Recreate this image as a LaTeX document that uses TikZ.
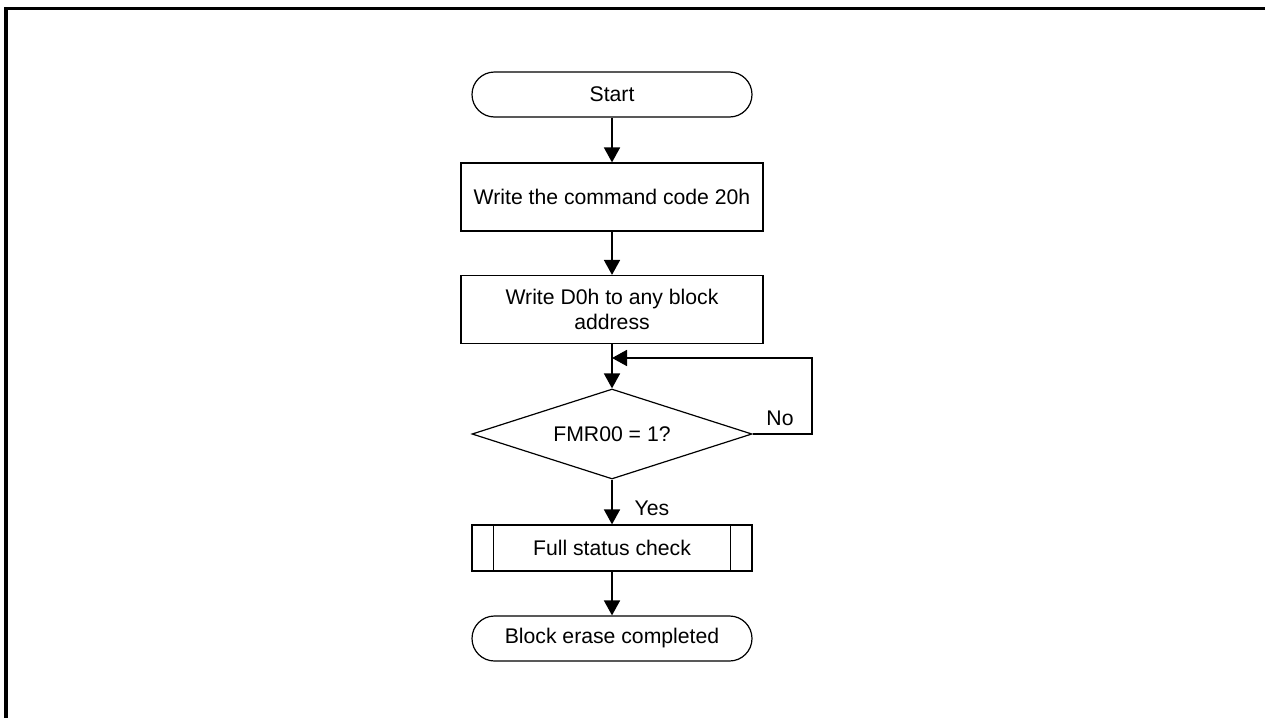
\documentclass[tikz,border=0pt]{standalone}
\usepackage{fontspec}
\setmainfont{Liberation Sans}
\usetikzlibrary{shapes.geometric,arrows.meta,positioning}

\begin{document}
\begin{tikzpicture}[x=0.5pt, y=-0.5pt,
  font=\fontsize{10.6}{12.6}\selectfont,
  term/.style={draw, line width=0.6pt, rounded corners=11.25pt, minimum width=140pt, minimum height=22.5pt, inner sep=0pt},
  proc/.style={draw, line width=0.6pt, minimum width=151pt, minimum height=34pt, inner sep=0pt, align=center},
  dec/.style={draw, diamond, aspect=3.1, line width=0.6pt, minimum width=140pt, minimum height=45pt, inner sep=0pt},
  sub/.style={draw, line width=0.6pt, minimum width=140pt, minimum height=23pt, inner sep=0pt},
  flow/.style={line width=0.9pt, -{Triangle[width=8pt,length=7.5pt]}}]
 \useasboundingbox (0,0) rectangle (1265,718);
 \draw[line width=1.6pt] (6,718) -- (6,8.5) -- (1265,8.5);
 % flow chart
 \node[term] (start) at (612,94.5) {Start};
 \node[proc] (cmd) at (612,197) {Write the command code 20h};
 \node[proc] (blk) at (612,309.5) {Write D0h to any block\\address};
 \node[dec] (fmr) at (612,434) {FMR00 = 1?};
 \node[sub] (fsc) at (612,548) {Full status check};
 \node[term] (done) at (612,638.5) {Block erase completed};
 \draw[line width=0.6pt] ([xshift=11pt]fsc.north west) -- ([xshift=11pt]fsc.south west);
 \draw[line width=0.6pt] ([xshift=-11pt]fsc.north east) -- ([xshift=-11pt]fsc.south east);
 \coordinate (join) at (612,358);
 \coordinate (loop) at (812,358);
 \draw[flow] (start) -- (cmd);
 \draw[flow] (cmd) -- (blk);
 \draw[flow] (blk) -- (fmr);
 \draw[flow] (fmr.east) -| (loop) -- (join);
 \draw[flow] (fmr) -- (fsc);
 \draw[flow] (fsc) -- (done);
 \node (no) at (780,418) {No};
 \node (yes) at (652,508) {Yes};
\end{tikzpicture}
\end{document}
